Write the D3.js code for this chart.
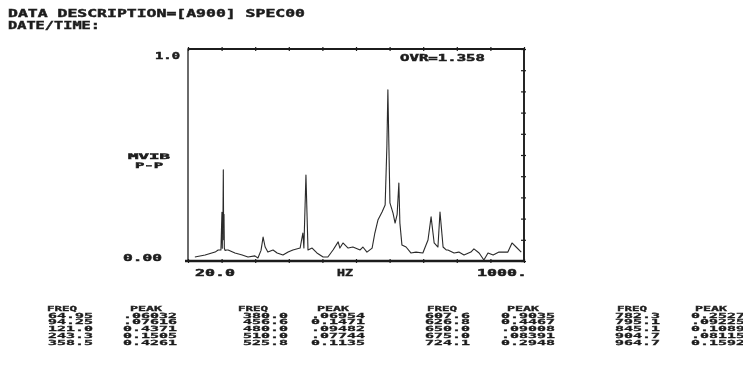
<!DOCTYPE html>
<meta charset="utf-8">
<style>
body { margin: 0; background: #fff; overflow: hidden; }
text { font-family: "DejaVu Sans Mono", monospace; font-weight: bold; fill: #1e1e1e; stroke: #1e1e1e; stroke-width: 0.45px; }
text.small { stroke-width: 0.3px; }
.trace { fill: none; stroke: #2a2a2a; stroke-width: 1.1px; stroke-linejoin: round; }
.frame { fill: none; stroke: #1e1e1e; }
.axis path { display: none; }
.axis line { stroke: #1e1e1e; stroke-width: 1.2px; }
</style>
<body>
<script src="https://d3js.org/d3.v7.min.js"></script>
<script>

// spectrum trace (Hz, amplitude)
var freqHz = [40, 70, 99, 108, 116, 119, 120, 121, 122, 123, 124, 125, 126, 128, 133, 137, 157, 178, 195, 215,
  224, 233, 239, 245, 253, 268, 280, 297, 312, 326, 347, 355, 358, 364, 370, 382, 396, 414, 428, 443,
  458, 463, 472, 487, 501, 522, 530, 542, 557, 565, 574, 586, 595, 600, 603, 606, 609, 618, 624, 630,
  635, 638, 644, 656, 670, 685, 705, 720, 729, 738, 749, 755, 764, 773, 778, 796, 810, 825, 845, 854,
  869, 883, 895, 910, 927, 953, 965, 977, 992];
var amp = [0.019, 0.028, 0.042, 0.052, 0.052, 0.23, 0.06, 0.23, 0.20, 0.43, 0.10, 0.22, 0.06, 0.05, 0.052, 0.052, 0.038, 0.028, 0.019, 0.024,
  0.014, 0.05, 0.113, 0.066, 0.042, 0.052, 0.038, 0.028, 0.042, 0.052, 0.061, 0.132, 0.061, 0.406, 0.052, 0.061, 0.038, 0.019, 0.019, 0.052,
  0.09, 0.061, 0.085, 0.061, 0.066, 0.052, 0.066, 0.042, 0.061, 0.132, 0.193, 0.231, 0.264, 0.538, 0.807, 0.538, 0.274, 0.226, 0.179, 0.22,
  0.368, 0.179, 0.075, 0.066, 0.038, 0.042, 0.038, 0.099, 0.208, 0.085, 0.066, 0.231, 0.066, 0.052, 0.052, 0.038, 0.042, 0.028, 0.042, 0.057,
  0.038, 0.005, 0.038, 0.028, 0.042, 0.042, 0.085, 0.066, 0.042];

// peak table, four groups of five
var peakFreq = [
  ["64.95", "94.25", "121.0", "243.3", "358.5"],
  ["380.0", "456.6", "480.0", "510.0", "525.8"],
  ["607.6", "626.8", "650.0", "675.0", "724.1"],
  ["782.3", "795.1", "845.1", "904.7", "964.7"]
];
var peakVal = [
  [".06032", ".07616", "0.4371", "0.1505", "0.4261"],
  [".06954", "0.1471", ".09482", ".07744", "0.1135"],
  ["0.9035", "0.4467", ".09008", ".08391", "0.2948"],
  ["0.2527", ".09225", "0.1089", ".08115", "0.1592"]
];

var titleLines = ["DATA DESCRIPTION=[A900] SPEC00", "DATE/TIME:"];
var yLabels = ["1.0", "0.00"];
var xLabels = ["20.0", "HZ", "1000."];

var W = 743, H = 385;
var box = {left: 188, right: 524, top: 49, bottom: 261};

var x = d3.scaleLinear().domain([20, 1000]).range([box.left, box.right]);
var y = d3.scaleLinear().domain([0, 1]).range([box.bottom, box.top]);

var svg = d3.select("body").append("svg")
    .attr("width", W)
    .attr("height", H);

// soft scan look
svg.append("defs").append("filter").attr("id", "soft")
  .append("feGaussianBlur").attr("stdDeviation", 0.4);

var g = svg.append("g").attr("filter", "url(#soft)");

// stretched text helper
function label(txt, x0, yb, w, size) {
  return g.append("text")
    .attr("x", x0).attr("y", yb)
    .style("font-size", size + "px")
    .attr("textLength", w)
    .attr("lengthAdjust", "spacingAndGlyphs")
    .text(txt);
}

// header
label(titleLines[0], 8, 16.5, 297, 10.5);
label(titleLines[1], 8, 29, 92, 10.5);

// frame
g.append("rect").attr("class", "frame")
  .attr("x", box.left).attr("y", box.top)
  .attr("width", box.right - box.left).attr("height", box.bottom - box.top)
  .style("stroke-width", 1.3);
g.append("line").attr("class", "frame")
  .attr("x1", box.left - 3).attr("x2", box.right + 1)
  .attr("y1", box.bottom).attr("y2", box.bottom)
  .style("stroke-width", 2.4);
g.append("line").attr("class", "frame")
  .attr("x1", box.left).attr("x2", box.right)
  .attr("y1", box.top).attr("y2", box.top)
  .style("stroke-width", 1.8);
g.append("line").attr("class", "frame")
  .attr("x1", box.right).attr("x2", box.right)
  .attr("y1", box.top).attr("y2", box.bottom)
  .style("stroke-width", 1.8);

// tick marks: ten divisions each way
var xt = d3.range(11).map(function(i) { return 20 + i * 98; });
var yt = d3.range(11).map(function(i) { return i / 10; });

g.append("g").attr("class", "axis")
  .attr("transform", "translate(0," + box.bottom + ")")
  .call(d3.axisBottom(x).tickValues(xt).tickSize(2).tickFormat(""))
  .selectAll("line").attr("y1", -2);
g.append("g").attr("class", "axis")
  .attr("transform", "translate(0," + box.top + ")")
  .call(d3.axisTop(x).tickValues(xt).tickSize(2).tickFormat(""))
  .selectAll("line").attr("y1", 2);
g.append("g").attr("class", "axis")
  .attr("transform", "translate(" + box.right + ",0)")
  .call(d3.axisRight(y).tickValues(yt).tickSize(2).tickFormat(""))
  .selectAll("line").attr("x1", -3);

// axis labels
label(yLabels[0], 155, 59, 25, 8.5);
label(yLabels[1], 123, 261, 39, 8.5);
label("MVIB", 128, 158.5, 42, 7.5);
label("P-P", 135, 167.5, 28, 7.5);
label(xLabels[0], 195, 276, 40, 8.5);
label(xLabels[1], 337, 276, 16, 8.5);
label(xLabels[2], 477, 276, 50, 8.5);
label("OVR=1.358", 400, 61, 85, 8.5);

// trace
var pts = freqHz.map(function(f, i) { return [f, amp[i]]; });
var line = d3.line()
    .x(function(d) { return x(d[0]); })
    .y(function(d) { return y(d[1]); });
g.append("path")
  .datum(pts)
  .attr("class", "trace")
  .attr("d", line);

// peak table
var cols = [
  {fr: 93, pr: 177, fh: 47, ph: 130},
  {fr: 288, pr: 365, fh: 238, ph: 317},
  {fr: 470, pr: 555, fh: 427, ph: 507},
  {fr: 660, pr: 745, fh: 617, ph: 695}
];
var headY = 311;
var rowY = [317.5, 324.2, 331, 337.7, 344.5];

cols.forEach(function(c, k) {
  label("FREQ", c.fh, headY, 30, 7).attr("class", "small");
  label("PEAK", c.ph, headY, 32, 7).attr("class", "small");
  peakFreq[k].forEach(function(s, r) {
    var w = s.length * 9;
    label(s, c.fr - w, rowY[r], w, 7).attr("class", "small");
  });
  peakVal[k].forEach(function(s, r) {
    var w = s.length * 9;
    label(s, c.pr - w, rowY[r], w, 7).attr("class", "small");
  });
});

</script>
</body>
